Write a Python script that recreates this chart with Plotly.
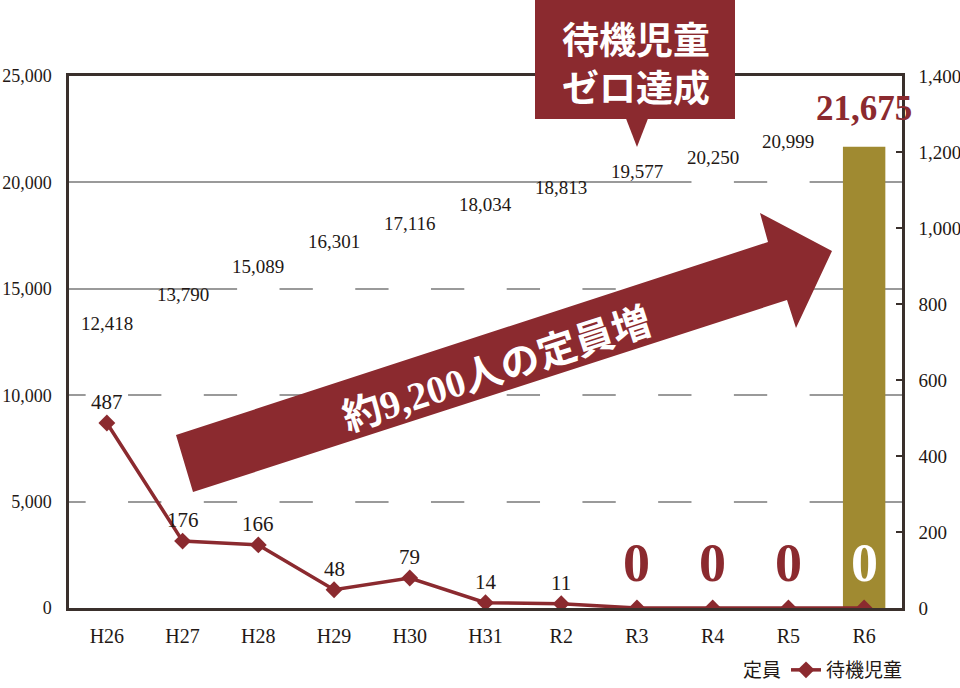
import plotly.graph_objects as go

# ---- data ----
categories = ["H26", "H27", "H28", "H29", "H30", "H31", "R2", "R3", "R4", "R5", "R6"]
capacity = [12418, 13790, 15089, 16301, 17116, 18034, 18813, 19577, 20250, 20999, 21675]
waiting = [487, 176, 166, 48, 79, 14, 11, 0, 0, 0, 0]
left_ticks = [0, 5000, 10000, 15000, 20000, 25000]
right_ticks = [0, 200, 400, 600, 800, 1000, 1200, 1400]

RED = "#8B2A2F"
GOLD = "#A08A31"
INK = "#231815"
AXIS = "#3a302c"
SERIF = "Liberation Serif, Noto Sans CJK JP"
CJK = "Noto Sans CJK JP"

# plot-area geometry (pixels) for decorations
L, R, T, B = 69, 902, 76, 608
def px(x):
    return (x - L) / (R - L)
def py(y):
    return (B - y) / (B - T)

fig = go.Figure()

bar_colors = ["#ffffff"] * (len(capacity) - 1) + [GOLD]
fig.add_trace(go.Bar(
    x=categories, y=capacity, name="定員", yaxis="y",
    marker=dict(color=bar_colors, line=dict(width=0)),
    width=0.56, hoverinfo="skip",
))
fig.add_trace(go.Scatter(
    x=categories, y=waiting, name="待機児童", yaxis="y2",
    mode="lines+markers",
    line=dict(color=RED, width=3.5),
    marker=dict(symbol="diamond", size=13, color=RED),
    hoverinfo="skip",
))

annotations = []
# bar value labels
for i, (c, v) in enumerate(zip(categories, capacity)):
    last = i == len(capacity) - 1
    annotations.append(dict(
        x=c, y=v, xref="x", yref="y", text=f"{v:,}", showarrow=False,
        yanchor="middle", yshift=38 if last else 20,
        font=dict(family=SERIF, size=35 if last else 19,
                  color=RED if last else INK,
                  weight="bold" if last else "normal"),
    ))
# line value labels
for i, (c, v) in enumerate(zip(categories, waiting)):
    if v == 0:
        annotations.append(dict(
            x=c, y=v, xref="x", yref="y2", text=f"{v:,}", showarrow=False,
            yanchor="middle", yshift=45,
            font=dict(family=SERIF, size=54, weight="bold",
                      color="#ffffff" if i == len(waiting) - 1 else RED),
        ))
    else:
        annotations.append(dict(
            x=c, y=v, xref="x", yref="y2", text=f"{v:,}", showarrow=False,
            yanchor="middle", yshift=21,
            font=dict(family=SERIF, size=21, color=INK),
        ))

# callout text
annotations.append(dict(x=px(636), y=py(62), xref="paper", yref="paper",
                        xanchor="center", yanchor="middle",
                        text="<b>待機児童<br>ゼロ達成</b>", showarrow=False,
                        font=dict(family=CJK, size=37, color="#ffffff")))
# arrow text
annotations.append(dict(x=px(497), y=py(370), xref="paper", yref="paper",
                        xanchor="center", yanchor="middle",
                        text="<b>約9,200人の定員増</b>", showarrow=False,
                        textangle=-18,
                        font=dict(family=SERIF, size=39, color="#ffffff")))

arrow_pts = [(176, 435), (768, 242), (760, 213), (832, 251),
             (796, 328), (787, 300), (193, 492)]
arrow_path = "M " + " L ".join(f"{px(x):.5f},{py(y):.5f}" for x, y in arrow_pts) + " Z"
tri_pts = [(625, 116), (649, 116), (637, 147)]
tri_path = "M " + " L ".join(f"{px(x):.5f},{py(y):.5f}" for x, y in tri_pts) + " Z"

shapes = [
    dict(type="rect", xref="paper", yref="paper",
         x0=px(535), x1=px(735), y0=py(119), y1=py(0),
         fillcolor=RED, line=dict(width=0), layer="above"),
    dict(type="path", xref="paper", yref="paper", path=tri_path,
         fillcolor=RED, line=dict(width=0), layer="above"),
    dict(type="path", xref="paper", yref="paper", path=arrow_path,
         fillcolor=RED, line=dict(width=0), layer="above"),
]

fig.update_layout(
    width=960, height=688,
    margin=dict(l=L, r=960 - R, t=T, b=688 - B, autoexpand=False),
    paper_bgcolor="#ffffff", plot_bgcolor="#ffffff",
    font=dict(family=SERIF, color=INK, size=17),
    showlegend=True,
    legend=dict(orientation="h", x=px(908), xanchor="right",
                y=py(670), yanchor="middle",
                font=dict(family=CJK, size=19, color=INK),
                bgcolor="rgba(0,0,0,0)", traceorder="normal"),
    xaxis=dict(
        type="category", categoryorder="array", categoryarray=categories,
        range=[-0.5, len(categories) - 0.5],
        showline=True, linecolor=AXIS, linewidth=2.5, mirror=True,
        ticks="", tickfont=dict(family=SERIF, size=20, color=INK),
        ticklabelstandoff=8, showgrid=False, zeroline=False, automargin=False,
    ),
    yaxis=dict(
        range=[0, 25000], tickvals=left_ticks, tickformat=",",
        showline=True, linecolor=AXIS, linewidth=2.5,
        ticks="", tickfont=dict(family=SERIF, size=18, color=INK),
        ticklabelstandoff=11, automargin=False,
        showgrid=True, gridcolor="#9a9a9a", gridwidth=1.5, zeroline=False,
    ),
    yaxis2=dict(
        overlaying="y", side="right", range=[0, 1400], tickvals=right_ticks,
        tickformat=",", showline=True, linecolor=AXIS, linewidth=2.5,
        ticks="inside", ticklen=6, tickwidth=2, tickcolor=AXIS,
        tickfont=dict(family=SERIF, size=19, color=INK), automargin=False,
        ticklabelstandoff=10, showgrid=False, zeroline=False,
    ),
    bargap=0.44,
    annotations=annotations,
    shapes=shapes,
)

fig.write_html("out.html")
